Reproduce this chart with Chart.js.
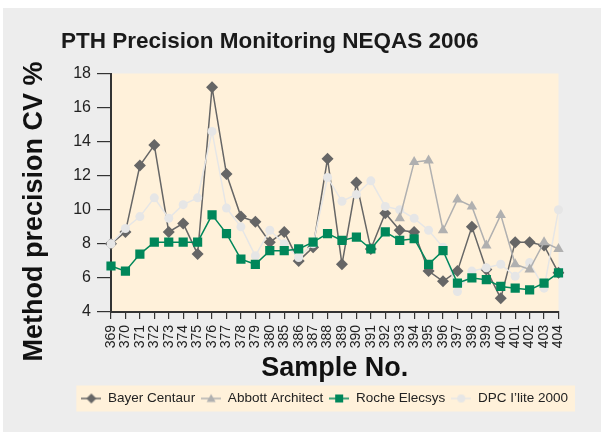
<!DOCTYPE html>
<html>
<head>
<meta charset="utf-8">
<script src="https://cdn.jsdelivr.net/npm/chart.js@4.4.1/dist/chart.umd.min.js"></script>
<style>
html, body { margin: 0; padding: 0; background: #fff; }
</style>
</head>
<body>
<canvas id="chart" width="601" height="432"></canvas>
<script>
var samples = ['369', '370', '371', '372', '373', '374', '375', '376', '377', '378', '379', '380',
    '385', '386', '387', '388', '389', '390', '391', '392', '393', '394', '395', '396', '397', '398',
    '399', '400', '401', '402', '403', '404'];

var bayer = [8.0, 8.7, 12.6, 13.8, 8.7, 9.2, 7.4, 17.2, 12.1, 9.6, 9.3, 8.1,
    8.7, 7.0, 7.8, 13.0, 6.8, 11.6, 7.7, 9.8, 8.8, 8.7, 6.4, 5.8, 6.4, 9.0, 6.5, 4.8, 8.1, 8.1, 7.9, 6.3];

var abbott = [null, null, null, null, null, null, null, null, null, null, null, null,
    null, null, null, null, null, null, null, null, 9.5, 12.8, 12.9, 8.8, 10.6, 10.2, 7.9, 9.7, 6.8, 6.5, 8.1, 7.7];

var roche = [6.7, 6.4, 7.4, 8.1, 8.1, 8.1, 8.1, 9.7, 8.6, 7.1, 6.8, 7.6,
    7.6, 7.7, 8.1, 8.6, 8.2, 8.4, 7.7, 8.7, 8.2, 8.3, 6.8, 7.6, 5.7, 6.0, 5.9, 5.5, 5.4, 5.3, 5.7, 6.3];

var dpc = [8.0, 8.9, 9.6, 10.7, 9.5, 10.3, 10.7, 14.6, 10.1, 9.0, 7.3, 8.8,
    8.0, 7.2, 8.0, 11.9, 10.5, 10.9, 11.7, 10.2, 10.0, 9.5, 8.8, 7.8, 5.2, 6.4, 6.6, 6.8, 6.1, 6.9, 5.4, 10.0];

var yTicks = [4, 6, 8, 10, 12, 14, 16, 18];

var fontFamily = "'Liberation Sans', Arial, sans-serif";

// small line + marker pictures for the legend
function legendIcon(shape, color) {
    var c = document.createElement('canvas');
    c.width = 20;
    c.height = 12;
    var ctx = c.getContext('2d');
    ctx.strokeStyle = color;
    ctx.fillStyle = color;
    ctx.lineWidth = 1.5;
    ctx.beginPath();
    ctx.moveTo(0, 6);
    ctx.lineTo(20, 6);
    ctx.stroke();
    ctx.beginPath();
    if (shape === 'diamond') {
        ctx.moveTo(10, 1); ctx.lineTo(15, 6); ctx.lineTo(10, 11); ctx.lineTo(5, 6);
    } else if (shape === 'triangle') {
        ctx.moveTo(10, 1.5); ctx.lineTo(14.5, 9.5); ctx.lineTo(5.5, 9.5);
    } else if (shape === 'square') {
        ctx.rect(6, 2, 8, 8);
    } else {
        ctx.arc(10, 6, 4, 0, Math.PI * 2);
    }
    ctx.closePath();
    ctx.fill();
    return c;
}

var icons = [
    legendIcon('diamond', '#666666'),
    legendIcon('triangle', '#b0b0b0'),
    legendIcon('square', '#00875a'),
    legendIcon('circle', '#e6e6e6')
];

var backgrounds = {
    id: 'backgrounds',
    beforeDraw: function (chart) {
        var ctx = chart.ctx;
        var a = chart.chartArea;
        ctx.save();
        ctx.fillStyle = '#ffffff';
        ctx.fillRect(0, 0, chart.width, chart.height);
        ctx.fillStyle = '#ededed';
        ctx.fillRect(3, 8, chart.width - 3, chart.height - 8);
        ctx.fillStyle = '#fff1da';
        ctx.fillRect(a.left, a.top, a.right - a.left, a.bottom - a.top);
        var boxes = chart.legend.legendHitBoxes;
        if (boxes && boxes.length) {
            var l = boxes[0].left, r = boxes[boxes.length - 1].left + boxes[boxes.length - 1].width;
            var cy = boxes[0].top + boxes[0].height / 2;
            ctx.fillRect(l - 5, cy - 13, r - l + 12, 26);
        }
        ctx.restore();
    }
};

var canvas = document.getElementById('chart');
var myChart = new Chart(canvas, {
    type: 'line',
    data: {
        labels: samples,
        datasets: [{
            label: 'Bayer Centaur',
            data: bayer,
            borderColor: '#666666',
            backgroundColor: '#666666',
            borderWidth: 1.5,
            pointStyle: 'rectRot',
            pointRadius: 6,
            pointBorderWidth: 0,
            order: 4
        }, {
            label: 'Abbott Architect',
            data: abbott,
            borderColor: '#b0b0b0',
            backgroundColor: '#b0b0b0',
            borderWidth: 1.5,
            pointStyle: 'triangle',
            pointRadius: 6,
            pointBorderWidth: 0,
            order: 2
        }, {
            label: 'Roche Elecsys',
            data: roche,
            borderColor: '#00875a',
            backgroundColor: '#00875a',
            borderWidth: 1.5,
            pointStyle: 'rect',
            pointRadius: 6.5,
            pointBorderWidth: 0,
            order: 1
        }, {
            label: 'DPC I\u2019lite 2000',
            data: dpc,
            borderColor: '#e6e6e6',
            backgroundColor: '#e6e6e6',
            borderWidth: 1.5,
            pointStyle: 'circle',
            pointRadius: 4.5,
            pointBorderWidth: 0,
            order: 3
        }]
    },
    options: {
        responsive: false,
        animation: false,
        devicePixelRatio: 1,
        layout: { padding: { left: 3, top: 8, right: 27, bottom: 16.75 } },
        elements: { line: { tension: 0 } },
        plugins: {
            title: {
                display: true,
                // trailing spaces nudge the centred title a little to the left
                text: 'PTH Precision Monitoring NEQAS 2006      ',
                color: '#1a1a1a',
                font: { family: fontFamily, size: 22.5, weight: 'bold' },
                padding: { top: 20.5, bottom: 18 }
            },
            legend: {
                position: 'bottom',
                align: 'end',
                labels: {
                    usePointStyle: true,
                    pointStyleWidth: 20,
                    padding: 6,
                    color: '#222',
                    font: { family: fontFamily, size: 13.5 },
                    generateLabels: function (chart) {
                        return chart.data.datasets.map(function (ds, i) {
                            return {
                                text: ds.label,
                                datasetIndex: i,
                                pointStyle: icons[i],
                                fillStyle: ds.borderColor,
                                strokeStyle: ds.borderColor,
                                lineWidth: 0,
                                hidden: false,
                                fontColor: '#222'
                            };
                        });
                    }
                }
            },
            tooltip: { enabled: false }
        },
        scales: {
            x: {
                type: 'category',
                offset: false,
                grid: { drawOnChartArea: false, tickLength: 7, color: '#333', lineWidth: 1.2 },
                border: { color: '#333', width: 2 },
                ticks: {
                    autoSkip: false, minRotation: 90, maxRotation: 90, padding: 6,
                    color: '#222', font: { family: fontFamily, size: 14 }
                },
                title: {
                    display: true,
                    text: 'Sample No.',
                    color: '#111',
                    font: { family: fontFamily, size: 27, weight: 'bold' },
                    padding: { top: 0, bottom: 1.5 }
                },
                afterFit: function (scale) { scale.height = 73.75; }
            },
            y: {
                min: 4,
                max: 18,
                afterBuildTicks: function (scale) {
                    scale.ticks = yTicks.map(function (v) { return { value: v }; });
                },
                grid: { drawOnChartArea: false, tickLength: 14, color: '#333', lineWidth: 1.2 },
                border: { color: '#333', width: 2 },
                ticks: { padding: 6, color: '#222', font: { family: fontFamily, size: 16 } },
                title: {
                    display: true,
                    // trailing spaces move the centred axis title down a bit
                    text: 'Method precision CV %     ',
                    color: '#111',
                    font: { family: fontFamily, size: 27, weight: 'bold' },
                    padding: { top: 15.8, bottom: 0 }
                },
                afterFit: function (scale) { scale.width = 108; }
            },
            yRight: {
                type: 'linear',
                position: 'right',
                grid: { display: false },
                border: { display: false },
                ticks: { display: false },
                afterFit: function (scale) { scale.width = 15.5; }
            }
        }
    },
    plugins: [backgrounds]
});
</script>
</body>
</html>
